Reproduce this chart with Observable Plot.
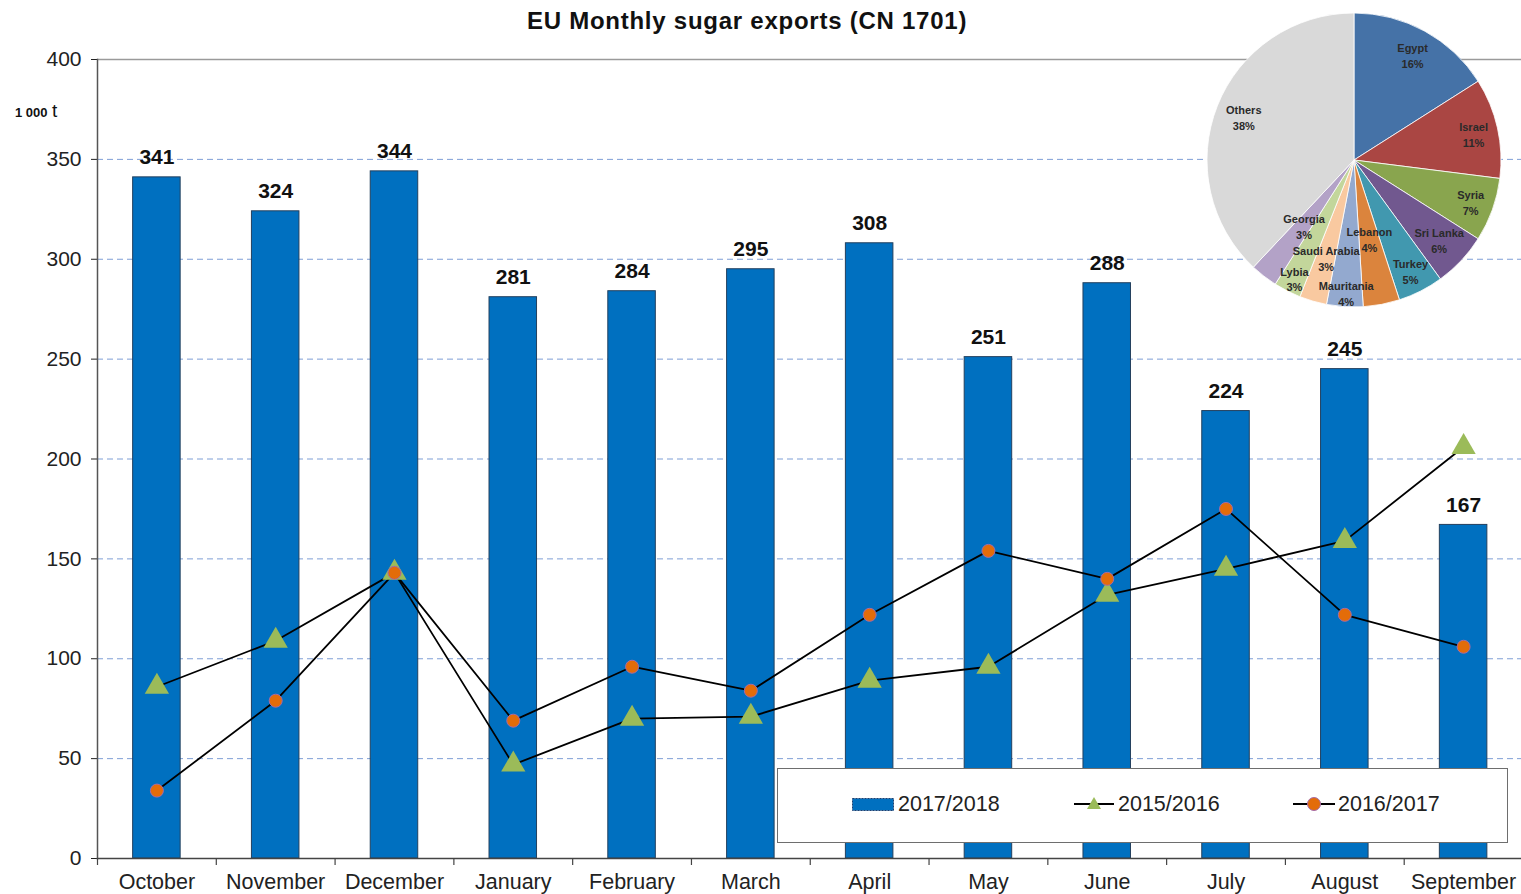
<!DOCTYPE html>
<html><head><meta charset="utf-8">
<script src="https://cdn.jsdelivr.net/npm/d3@7"></script>
<script src="https://cdn.jsdelivr.net/npm/@observablehq/plot@0.6"></script>
<style>
body{margin:0;background:#fff;font-family:"Liberation Sans",Arial,sans-serif;}
#wrap{position:relative;width:1521px;height:894px;overflow:hidden;background:#fff;}
#wrap > figure, #wrap > svg{margin:0;}
#title{position:absolute;left:0;width:1494px;top:7px;text-align:center;font-weight:bold;font-size:24px;letter-spacing:0.75px;color:#111;}
#unit{position:absolute;left:15px;top:100px;color:#111;}
#unit .n{font-size:13px;font-weight:bold;}
#unit .t{font-size:19px;}
#main{position:absolute;left:0;top:0;}
#pie{position:absolute;left:1204px;top:10px;}
#legend{position:absolute;left:777px;top:768px;width:729px;height:73px;border:1px solid #6e6e6e;background:#fff;font-size:21.5px;color:#222;}
#legend .lab{position:absolute;top:23px;height:24px;line-height:24px;}
#legend svg{position:absolute;}
</style></head><body>
<div id="wrap">
  <div id="main"></div>
  <div id="pie"></div>
  <div id="title">EU Monthly sugar exports (CN 1701)</div>
  <div id="unit"><span class="n">1 000</span> <span class="t">t</span></div>
  <div id="legend">
    <svg style="left:74px;top:29px" width="42" height="13"><rect x="0.5" y="0.5" width="41" height="12" fill="#0070C0" stroke="#1f3f6f" stroke-dasharray="2,1"/></svg>
    <span class="lab" style="left:120px">2017/2018</span>
    <svg style="left:296px;top:25px" width="40" height="20"><line x1="0" y1="10" x2="40" y2="10" stroke="#000" stroke-width="2"/><path d="M20,3 L27,15 L13,15 Z" fill="#9BBB59"/></svg>
    <span class="lab" style="left:340px">2015/2016</span>
    <svg style="left:515px;top:25px" width="42" height="20"><line x1="0" y1="10" x2="42" y2="10" stroke="#000" stroke-width="2"/><circle cx="21" cy="10" r="6.5" fill="#E36C09" stroke="#a66aa6" stroke-width="1"/></svg>
    <span class="lab" style="left:560px">2016/2017</span>
  </div>
</div>
<script>
// ---- data ----
const months = ["October","November","December","January","February","March","April","May","June","July","August","September"];
const exports2017_2018 = [341,324,344,281,284,295,308,251,288,224,245,167];
const exports2015_2016 = [86,109,143,47,70,71,89,96,132,145,159,206];
const exports2016_2017 = [34,79,143,69,96,84,122,154,140,175,122,106];
const yTicks = [0,50,100,150,200,250,300,350,400];

const pieCountries = ["Egypt","Israel","Syria","Sri Lanka","Turkey","Lebanon","Mauritania","Saudi Arabia","Lybia","Georgia","Others"];
const pieShares = [16,11,7,6,5,4,4,3,3,3,38];
// styling / layout config for the pie
const pieColors = ["#4572A7","#AA4643","#89A54E","#71588F","#4198AF","#DB843D","#93A9CF","#F9C9A0","#C3D69B","#B3A2C7","#D9D9D9"];
const pieLabelRadius = [0.82,0.83,0.84,0.79,0.84,0.54,0.90,0.69,0.90,0.56,0.81];

// ---- tables ----
const bars = months.map((m,i)=>({month:m, value:exports2017_2018[i]}));
const s1516 = months.map((m,i)=>({month:m, value:exports2015_2016[i]}));
const s1617 = months.map((m,i)=>({month:m, value:exports2016_2017[i]}));

const W = 1521, H = 894, mL = 97, mR = -1.5;
const step = (W - mL - mR) / months.length;

const main = Plot.plot({
  width: W, height: H, marginTop: 59, marginBottom: 36, marginLeft: mL, marginRight: mR,
  style: {fontFamily: "'Liberation Sans', Arial, sans-serif", fontSize: "21px", color: "#222", background: "transparent", overflow: "visible"},
  x: {domain: months, paddingInner: 0.6, paddingOuter: 0.3, round: false, label: null, axis: null},
  y: {domain: [0,400], label: null, axis: null},
  marks: [
    Plot.ruleY(yTicks.filter(d => d > 0 && d < 400), {stroke: "#7F9FD6", strokeDasharray: "6,4", strokeWidth: 1}),
    Plot.ruleY([400], {stroke: "#9a9a9a", strokeWidth: 1.5}),
    Plot.barY(bars, {x: "month", y: "value", fill: "#0070C0", stroke: "#23405e", strokeWidth: 1}),
    Plot.text(bars, {x: "month", y: "value", text: d => String(d.value), dy: -13, lineAnchor: "bottom", fontWeight: "bold", fontSize: 21, fill: "#111"}),
    Plot.line(s1516, {x: "month", y: "value", stroke: "#000", strokeWidth: 1.8}),
    Plot.line(s1617, {x: "month", y: "value", stroke: "#000", strokeWidth: 1.8}),
    Plot.dot(s1516, {x: "month", y: "value", symbol: "triangle", r: 9, fill: "#9BBB59", stroke: "none"}),
    Plot.dot(s1617, {x: "month", y: "value", r: 6.5, fill: "#E36C09", stroke: "#a66aa6", strokeWidth: 1}),
    Plot.axisY({ticks: yTicks, tickSize: 6, tickPadding: 10, fontSize: 21, label: null}),
    Plot.axisX({tickSize: 0, tickPadding: 15, fontSize: 21.5, label: null}),
    Plot.frame({anchor: "left", stroke: "#555", strokeWidth: 1.5}),
    Plot.frame({anchor: "bottom", stroke: "#444", strokeWidth: 1.5}),
    Plot.ruleX(months, {x: d => d, y1: 0, y2: 0, insetBottom: -7, dx: -step/2, stroke: "#444", strokeWidth: 1.2})
  ]
});
document.getElementById("main").appendChild(main);

// ---- pie ----
const pieData = pieCountries.map((c,i)=>({country:c, share:pieShares[i], color:pieColors[i], lr:pieLabelRadius[i]}));
const pieArcs = d3.pie().sort(null).value(d => d.share)(pieData);
const pieLabels = pieArcs.map(a => {
  const ang = (a.startAngle + a.endAngle) / 2;
  return {x: Math.sin(ang) * a.data.lr, y: Math.cos(ang) * a.data.lr, text: a.data.country + "\n" + a.data.share + "%"};
});
const pie = Plot.plot({
  width: 300, height: 300, margin: 3,
  style: {background: "transparent", overflow: "visible", fontFamily: "'Liberation Sans', Arial, sans-serif"},
  x: {domain: [-1,1], axis: null},
  y: {domain: [-1,1], axis: null},
  marks: [
    (index, scales) => {
      const g = d3.create("svg:g");
      const cx = scales.x(0), cy = scales.y(0), r = scales.x(1) - scales.x(0);
      const arc = d3.arc().innerRadius(0).outerRadius(r);
      g.attr("transform", `translate(${cx},${cy})`)
        .selectAll("path").data(pieArcs).join("path")
        .attr("d", arc).attr("fill", d => d.data.color)
        .attr("stroke", "#ffffff").attr("stroke-width", 0.8);
      return g.node();
    },
    Plot.text(pieLabels, {x: "x", y: "y", text: "text", fontSize: 11, fontWeight: "bold", fill: "#2a2a2a", lineHeight: 1.45})
  ]
});
document.getElementById("pie").appendChild(pie);
</script>
</body></html>
